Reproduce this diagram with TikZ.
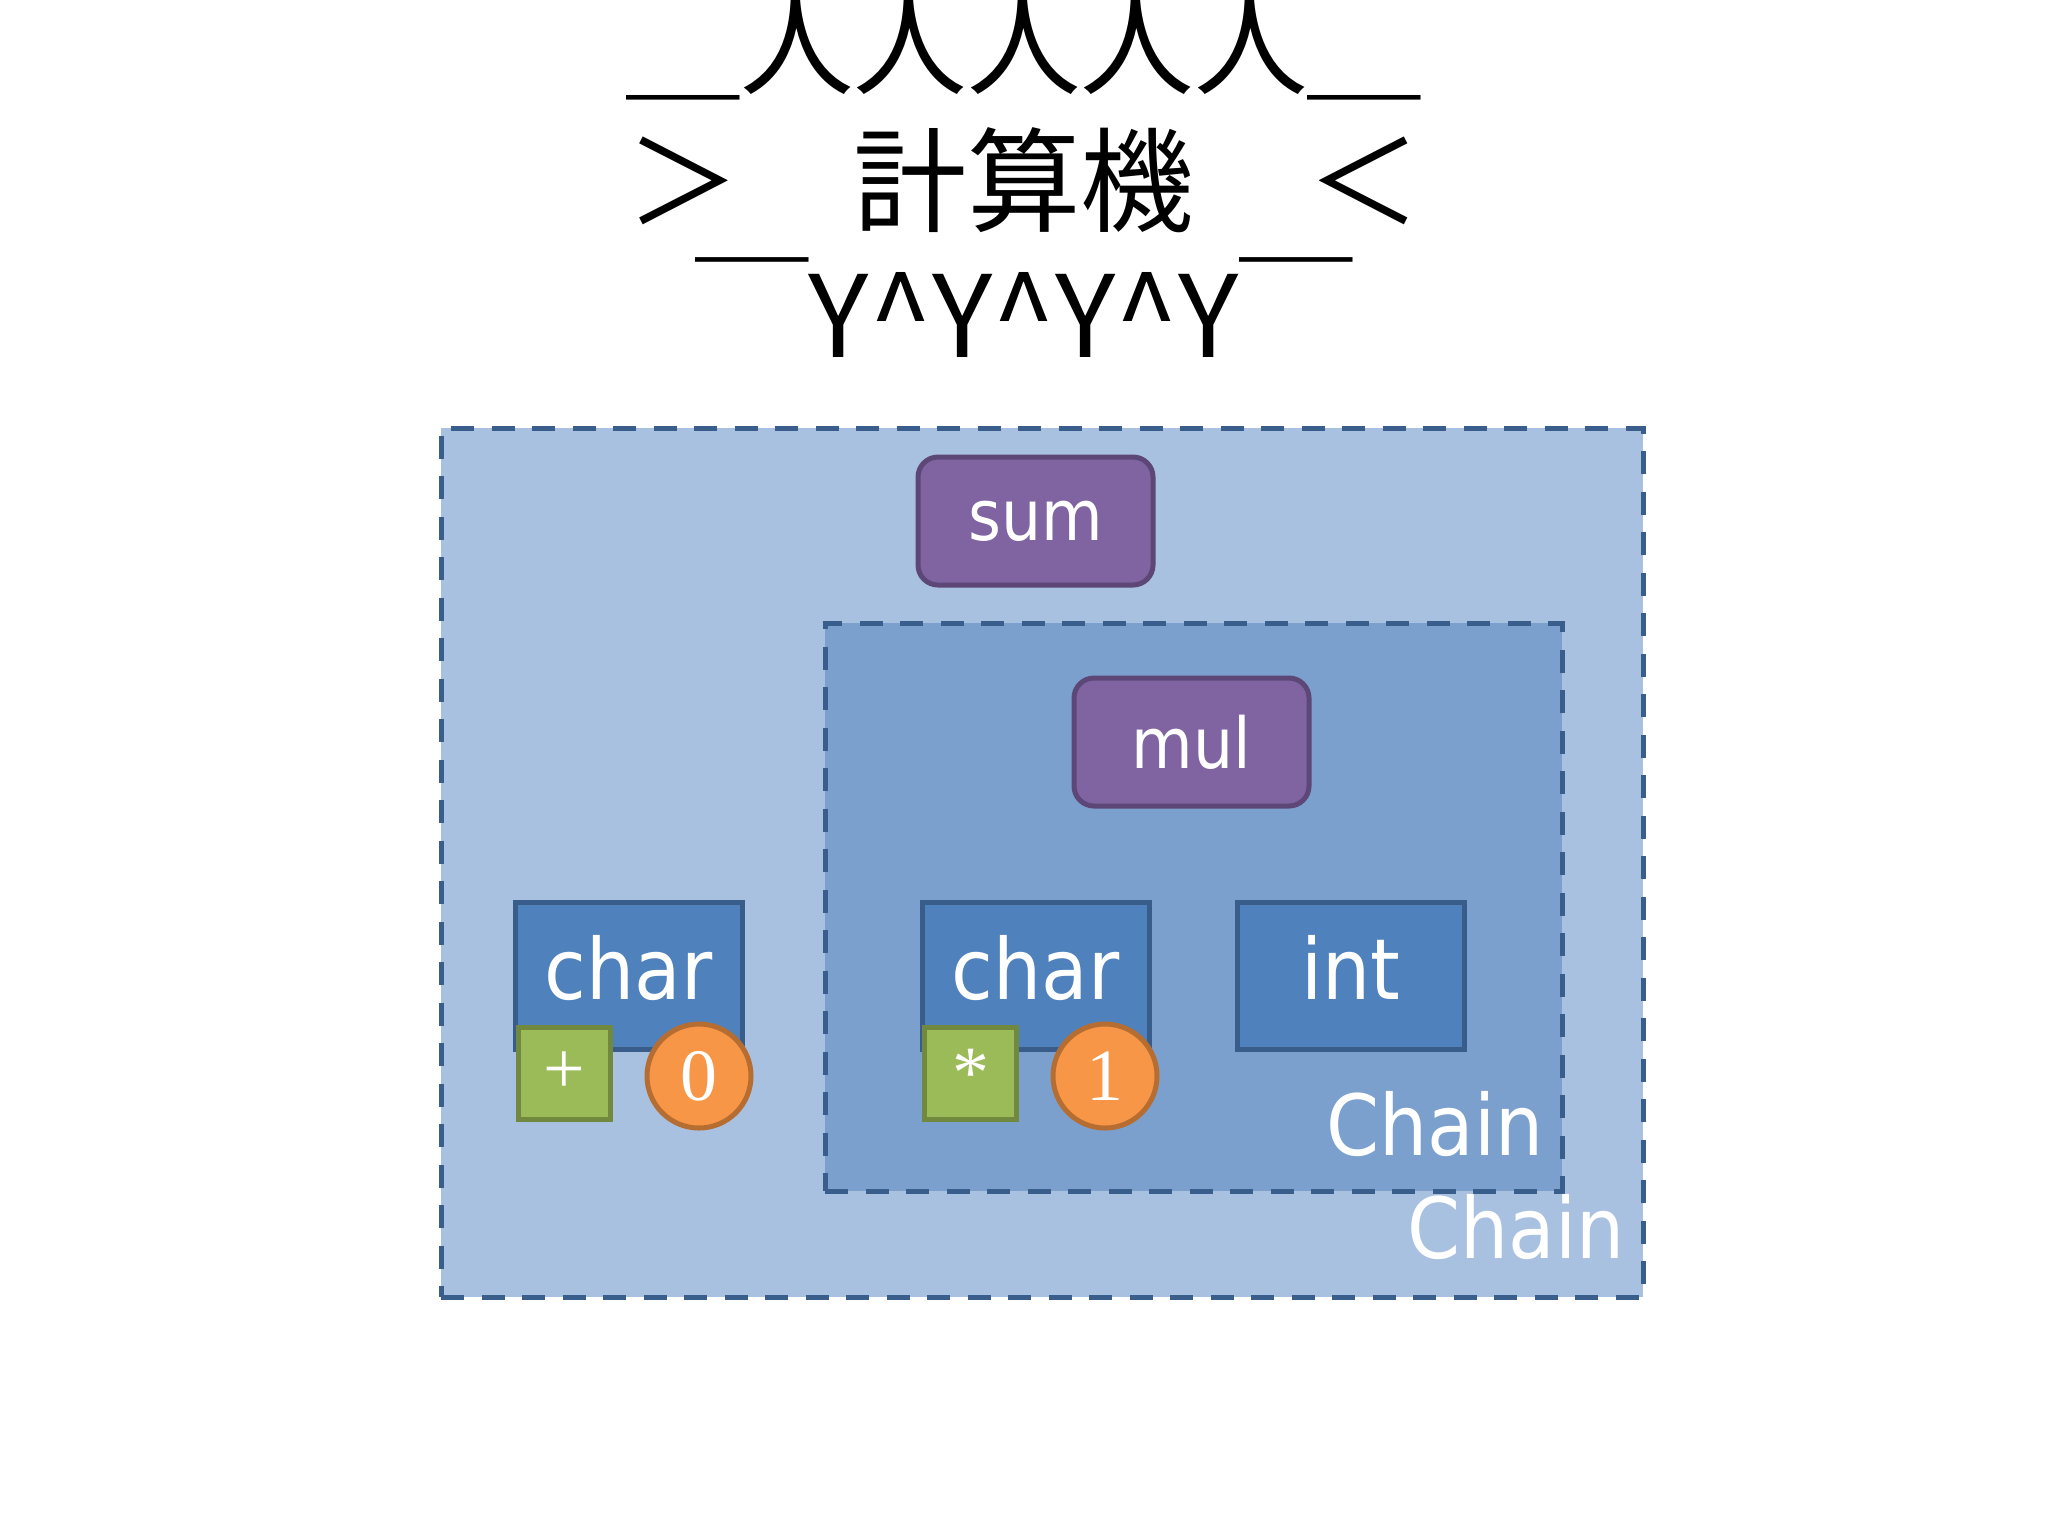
\documentclass[tikz,border=0pt]{standalone}
\usepackage{fontspec}
\newfontfamily\cjk{Noto Sans CJK JP}
\newfontfamily\boxfont{DejaVu Sans Condensed}
\newfontfamily\numfont{Liberation Serif}
\usetikzlibrary{positioning}
\definecolor{outerfill}{HTML}{A9C1E1}
\definecolor{innerfill}{HTML}{7BA0CD}
\definecolor{chainline}{HTML}{3A5E8C}
\definecolor{typefill}{HTML}{4F81BD}
\definecolor{typeline}{HTML}{385D8A}
\definecolor{funcfill}{HTML}{8064A2}
\definecolor{funcline}{HTML}{5C4776}
\definecolor{opfill}{HTML}{9BBB59}
\definecolor{opline}{HTML}{71893F}
\definecolor{argfill}{HTML}{F79646}
\definecolor{argline}{HTML}{B66D31}
\tikzset{
  chainbox/.style={draw=chainline, dash pattern=on 2.3mm off 1.75mm, line width=0.5mm, inner sep=0pt},
  funcbox/.style={draw=funcline, fill=funcfill, rounded corners=2mm, line width=0.5mm, minimum width=23.5mm, minimum height=12.8mm, text=white, font=\boxfont\fontsize{20}{24}\selectfont},
  typebox/.style={draw=typeline, fill=typefill, line width=0.5mm, minimum width=22.7mm, minimum height=14.7mm, text height=18.2pt, text depth=4.8pt, text=white, font=\boxfont\fontsize{24}{28}\selectfont},
  opbox/.style={draw=opline, fill=opfill, line width=0.5mm, minimum size=9.2mm, inner sep=0pt, text=white, font=\numfont\fontsize{21}{24}\selectfont},
  argdot/.style={circle, draw=argline, fill=argfill, line width=0.5mm, minimum size=10.4mm, inner sep=0pt, text=white, font=\numfont\fontsize{21}{24}\selectfont},
  chainlabel/.style={text=white, font=\boxfont\fontsize{24}{28}\selectfont, inner sep=0pt, anchor=base east},
  titleline/.style={font=\cjk\fontsize{32.3}{40}\selectfont, inner sep=0pt, anchor=base}
}
\begin{document}
\begin{tikzpicture}[x=0.1mm, y=-0.1mm]
    \useasboundingbox (0,0) rectangle (2048,1536);

    % title
    \node[titleline] (top) at (1024,86) {＿人人人人人＿};
    \node[titleline] (title) at (1024,223) {＞　計算機　＜};
    \node[titleline] (bottom) at (1024,357) {￣Y\textasciicircum Y\textasciicircum Y\textasciicircum Y￣};

    % chains
    \node[chainbox, fill=outerfill, minimum width=120.2mm, minimum height=86.9mm] (outer) at (1042,862.5) {};
    \node[chainbox, fill=innerfill, minimum width=73.7mm, minimum height=56.8mm] (inner) at (1193.5,907) {};
    \node[chainlabel] (outerlabel) at (1625,1258) {Chain};
    \node[chainlabel] (innerlabel) at (1544,1155) {Chain};

    % parsers
    \node[funcbox] (sum) at (1035.5,521) {sum};
    \node[funcbox] (mul) at (1191.5,742) {mul};
    \node[typebox] (charA) at (628.5,975.5) {char};
    \node[typebox] (charB) at (1035.5,975.5) {char};
    \node[typebox] (int) at (1350.5,975.5) {int};

    % arguments
    \node[opbox] (plus) at (564,1073) {+};
    \node[argdot] (zero) at (699,1076) {0};
    \node[opbox] (star) at (970.5,1073) {*};
    \node[argdot] (one) at (1105,1076) {1};
  \end{tikzpicture}
\end{document}
